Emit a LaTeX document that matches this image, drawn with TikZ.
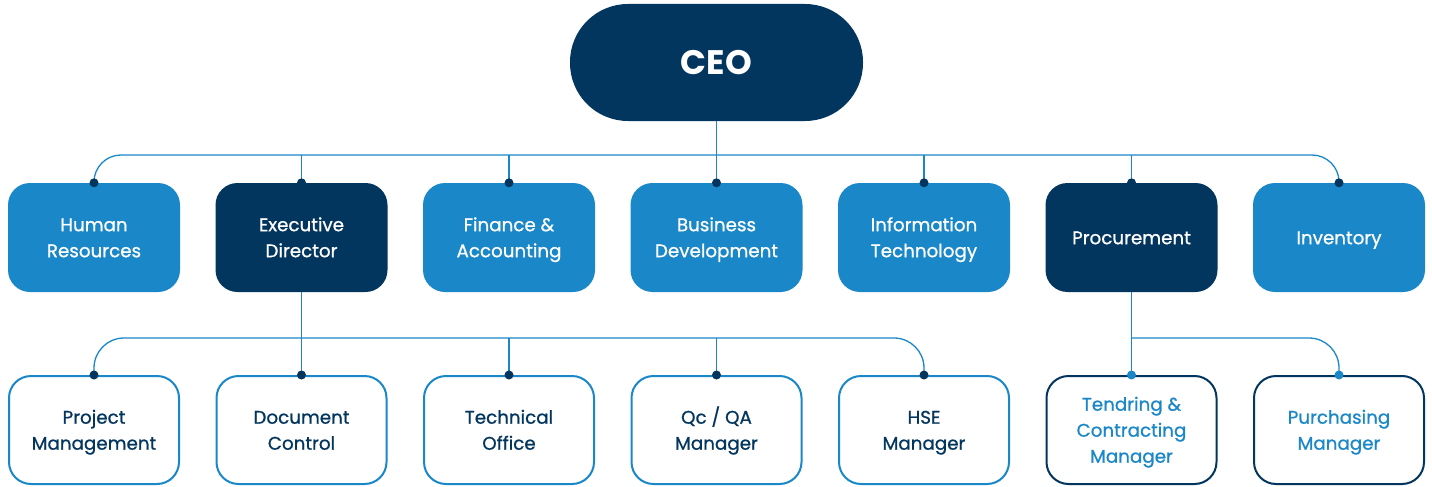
\documentclass[tikz,border=0pt]{standalone}
\usepackage{fontspec}
\setmainfont{Poppins}
\newfontfamily\medfont{Poppins}[FakeBold=0.8]
\definecolor{lblue}{HTML}{1987C8}
\definecolor{navy}{HTML}{03365E}
\newcommand{\lbl}[1]{\raisebox{0pt}[\dimexpr\height+3pt\relax][\depth]{\begin{tabular}{@{}c@{}}#1\end{tabular}}}
\begin{document}
\begin{tikzpicture}[x=1pt,y=-1pt,
  box/.style={rectangle, rounded corners=22pt, minimum width=172pt, minimum height=109pt, inner sep=0pt,
    font=\medfont\fontsize{18.3pt}{26pt}\selectfont},
  lbox/.style={box, fill=lblue, text=white},
  nbox/.style={box, fill=navy, text=white},
  wbox/.style={box, draw=lblue, line width=2pt, fill=white, text=navy, minimum width=170pt, minimum height=108pt},
  wnbox/.style={box, draw=navy, line width=2pt, fill=white, text=lblue, minimum width=170pt, minimum height=108pt},
  ceobox/.style={rectangle, fill=navy, text=white, minimum width=293pt, minimum height=117pt, rounded corners=58pt, inner sep=0pt,
    font=\fontsize{34pt}{40pt}\bfseries\selectfont},
  conn/.style={draw=lblue, line width=1.3pt},
  ndot/.style={fill=navy},
  bdot/.style={fill=lblue}
]
\useasboundingbox (0,0) rectangle (1432,487);
\node[ceobox] (ceo) at (716.5,62.5) {CEO};
% row 1
\node[lbox] (hr)  at (94,237.5) {\lbl{Human\\Resources}};
\node[nbox] (ed)  at (301.5,237.5) {\lbl{Executive\\Director}};
\node[lbox] (fa)  at (509,237.5) {\lbl{Finance \&\\Accounting}};
\node[lbox] (bd)  at (716.5,237.5) {\lbl{Business\\Development}};
\node[lbox] (it)  at (924,237.5) {\lbl{Information\\Technology}};
\node[nbox] (pr)  at (1131.5,237.5) {\lbl{Procurement}};
\node[lbox] (inv) at (1339,237.5) {\lbl{Inventory}};
% row 2
\node[wbox] (pm)  at (94,430) {\lbl{Project\\Management}};
\node[wbox] (dc)  at (301.5,430) {\lbl{Document\\Control}};
\node[wbox] (to)  at (509,430) {\lbl{Technical\\Office}};
\node[wbox] (qc)  at (716.5,430) {\lbl{Qc / QA\\Manager}};
\node[wbox] (hse) at (924,430) {\lbl{HSE\\Manager}};
\node[wnbox] (tc)  at (1131.5,430) {\lbl{Tendring \&\\Contracting\\Manager}};
\node[wnbox] (pum) at (1339,430) {\lbl{Purchasing\\Manager}};
% bus coordinates
\coordinate (busA) at (716.5,155);
\coordinate (busB) at (301.5,338);
\coordinate (busC) at (1131.5,338);
% connectors top
\draw[conn] (ceo.south) -- (bd.north);
\draw[conn, rounded corners=27pt] (hr.north) |- (busA) -| (inv.north);
\foreach \n in {ed,fa,it,pr} \draw[conn] (\n.north |- busA) -- (\n.north);
% connectors bottom
\draw[conn] (ed.south) -- (dc.north);
\draw[conn, rounded corners=30pt] (pm.north) |- (busB) -| (hse.north);
\foreach \n in {to,qc} \draw[conn] (\n.north |- busB) -- (\n.north);
\draw[conn] (pr.south) -- (tc.north);
\draw[conn, rounded corners=30pt] (busC) -| (pum.north);
% dots
\foreach \n in {hr,ed,fa,bd,it,pr,inv,pm,dc,to,qc,hse} \fill[ndot] (\n.north) circle (4.5pt);
\foreach \n in {tc,pum} \fill[bdot] (\n.north) circle (4.5pt);
\end{tikzpicture}
\end{document}
